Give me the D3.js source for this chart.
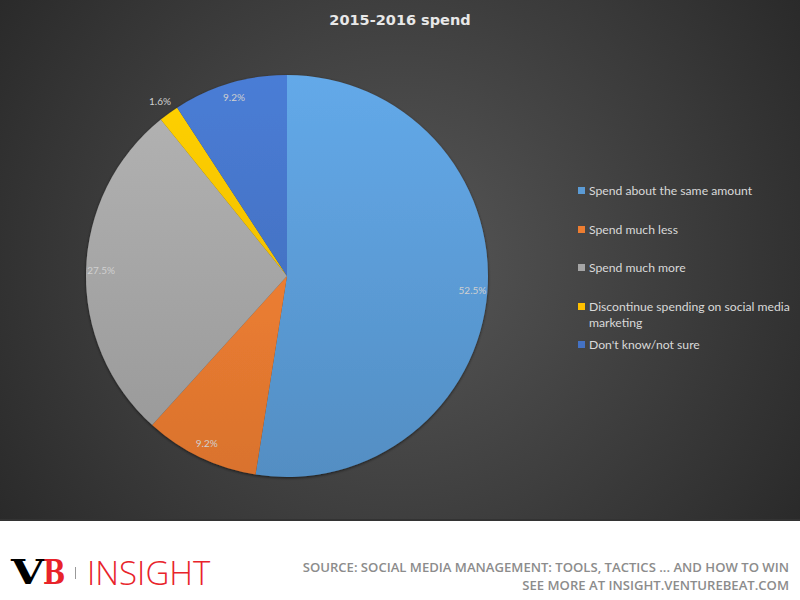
<!DOCTYPE html>
<html><head><meta charset="utf-8">
<script src="https://cdn.jsdelivr.net/npm/d3@7"></script>
<style>html,body{margin:0;padding:0;background:#fff;}svg{display:block;}</style>
</head><body>
<script>
const categories = ["Spend about the same amount","Spend much less","Spend much more","Discontinue spending on social media marketing","Don't know/not sure"];
const legendLines = [["Spend about the same amount"],["Spend much less"],["Spend much more"],["Discontinue spending on social media","marketing"],["Don't know/not sure"]];
const values = [52.5, 9.2, 27.5, 1.6, 9.2];
const colors = ["#5b9bd5","#ed7d31","#a5a5a5","#ffc000","#4472c4"];
const title = "2015-2016 spend";
const sourceLines = ["SOURCE: SOCIAL MEDIA MANAGEMENT: TOOLS, TACTICS ... AND HOW TO WIN","SEE MORE AT INSIGHT.VENTUREBEAT.COM"];

const W=800,H=600;
const svg=d3.select("body").append("svg").attr("width",W).attr("height",H);
const defs=svg.append("defs");
const bg=defs.append("radialGradient").attr("id","bg").attr("gradientUnits","userSpaceOnUse")
  .attr("cx",400).attr("cy",260).attr("r",520);
bg.append("stop").attr("offset",0).attr("stop-color","#575757");
bg.append("stop").attr("offset",1).attr("stop-color","#262626");
svg.append("rect").attr("width",W).attr("height",521).attr("fill","url(#bg)");
svg.append("rect").attr("y",519).attr("width",W).attr("height",2).attr("fill","#333");
svg.append("rect").attr("y",521).attr("width",W).attr("height",79).attr("fill","#fff");

svg.append("text").attr("x",400).attr("y",25).attr("text-anchor","middle")
  .attr("font-family","DejaVu Sans").attr("font-weight","bold").attr("font-size",14.5)
  .attr("fill","#e8e8e8").text(title);

const cx=287,cy=276,R=201;
colors.forEach((c,i)=>{
  const g=defs.append("linearGradient").attr("id","g"+i).attr("gradientUnits","userSpaceOnUse")
    .attr("x1",0).attr("y1",-R).attr("x2",0).attr("y2",R);
  g.append("stop").attr("offset",0).attr("stop-color",d3.color(c).brighter(0.25));
  g.append("stop").attr("offset",1).attr("stop-color",d3.color(c).darker(0.25));
});
const sh=defs.append("filter").attr("id","sh").attr("x","-10%").attr("y","-10%").attr("width","120%").attr("height","120%");
sh.append("feDropShadow").attr("dx",0).attr("dy",1).attr("stdDeviation",1.5).attr("flood-color","#000").attr("flood-opacity",0.6);

const pie=d3.pie().sort(null).value(d=>d);
const arcs=pie(values);
const arc=d3.arc().innerRadius(0).outerRadius(R);
const gp=svg.append("g").attr("transform",`translate(${cx},${cy})`);
gp.append("g").attr("filter","url(#sh)").selectAll("path").data(arcs).join("path")
  .attr("d",arc).attr("fill",(d,i)=>`url(#g${i})`);

const lab=d3.arc().innerRadius(186).outerRadius(186);
const labOut=d3.arc().innerRadius(216).outerRadius(216);
gp.selectAll("text.lbl").data(arcs).join("text").attr("class","lbl")
  .attr("transform",d=>`translate(${(d.value<3?labOut:lab).centroid(d)})`)
  .attr("text-anchor","middle").attr("dy","0.35em")
  .attr("font-family","Lato").attr("font-size",10).attr("fill","#d0d0d0")
  .text(d=>d.value.toFixed(1)+"%");

const legY=[191,230,268,307,345];
const lg=svg.append("g");
legendLines.forEach((lines,i)=>{
  lg.append("rect").attr("x",578).attr("y",legY[i]-4).attr("width",7).attr("height",7).attr("fill",colors[i]);
  lines.forEach((t,j)=>{
    lg.append("text").attr("x",589).attr("y",legY[i]+j*16).attr("dy","0.35em")
      .attr("font-family","Lato").attr("font-size",12.2).attr("fill","#d9d9d9").text(t);
  });
});

// footer logo
svg.append("text").attr("transform","translate(11,584) scale(1.3,1)").attr("font-family","DejaVu Serif").attr("font-weight","bold")
  .attr("font-size",33).attr("fill","#000").text("V");
svg.append("text").attr("transform","translate(43,584) scale(0.8,1)").attr("font-family","DejaVu Serif").attr("font-weight","bold")
  .attr("font-size",33).attr("fill","#e8232a").text("B");
svg.append("rect").attr("x",75).attr("y",567).attr("width",1).attr("height",12).attr("fill","#999");
svg.append("text").attr("x",87).attr("y",585).attr("font-family","Open Sans").attr("font-weight",300)
  .attr("font-size",33).attr("fill","#e8232a").text("INSIGHT");
sourceLines.forEach((t,i)=>{
  svg.append("text").attr("x",789).attr("y",572+i*18).attr("text-anchor","end")
    .attr("font-family","Open Sans").attr("font-weight",600).attr("font-size",13.1).attr("fill","#8c8c8c").text(t);
});
</script>
</body></html>
